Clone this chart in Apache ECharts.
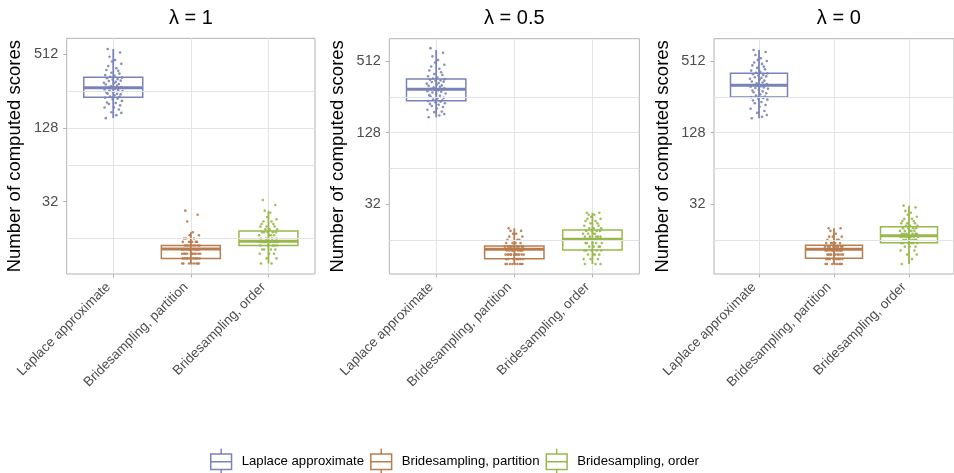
<!DOCTYPE html>
<html><head><meta charset="utf-8">
<script src="https://cdn.jsdelivr.net/npm/echarts@6/dist/echarts.min.js"></script>
<style>html,body{margin:0;padding:0;background:#fff}#c{width:954px;height:473px}</style>
</head><body><div id="c"></div>
<script>
const categories = ['Laplace approximate', 'Bridesampling, partition', 'Bridesampling, order'];
const panelTitles = ['λ = 1', 'λ = 0.5', 'λ = 0'];
const yTickLabels = [32, 128, 512];
const yMinorLines = [16, 64, 256];
const yAxisTitle = 'Number of computed scores';
const yExtents = [[8.2, 692], [8.24, 789], [8.24, 789]];

// box statistics per category: [lower whisker, Q1, median, Q3, upper whisker]
const boxLambda1 = [[154, 228, 273, 332, 566], [10, 11, 13.1, 14, 18], [10, 14, 15.2, 18.4, 27]];
const boxLambda05 = [[172, 237, 296, 361, 634], [10, 11.1, 13.3, 14.2, 20], [10, 13.1, 16.2, 19.3, 27]];
const boxLambda0 = [[169, 255, 320, 403, 634], [10, 11.2, 13.3, 14.4, 20], [10, 15.1, 17.3, 20.6, 31]];

// individual (jittered) observations
const lapLambda1 = [154,163,170,172,181,188,189,196,201,205,207,213,220,222,226,230,231,237,241,244,244,249,252,256,259,262,264,268,270,272,274,277,281,284,290,293,297,300,305,310,312,318,321,326,330,335,341,347,356,362,375,381,394,410,428,447,460,489,530,566];
const partLambda1 = [10,10,10,10,10,10,10,10,11,11,11,11,11,11,11,11,11,12,12,12,12,12,12,12,12,12,12,12,13,13,13,13,13,13,13,13,13,13,14,14,14,14,14,14,14,14,15,15,15,15,15,16,16,16,17,17,18,22,25,27];
const orderLambda1 = [10,10,11,11,12,12,12,13,13,13,13,14,14,14,14,14,15,15,15,15,15,15,15,15,15,15,15,15,15,15,15,16,16,16,16,17,17,17,17,18,18,18,18,18,19,19,19,20,20,20,21,21,22,22,23,24,26,27,30,33];
const lapLambda05 = [172,178,183,190,192,199,204,210,214,219,223,226,229,233,236,239,243,248,251,257,261,264,270,273,278,282,285,289,292,295,298,302,307,311,316,319,325,330,334,340,343,349,352,356,360,365,372,381,390,398,412,426,441,460,476,498,522,560,600,657];
const partLambda05 = [10,10,10,10,10,10,10,10,10,11,11,11,11,11,11,11,12,12,12,12,12,12,12,12,12,12,12,12,13,13,13,13,13,13,13,13,13,14,14,14,14,14,14,14,14,14,15,15,15,15,16,16,16,17,17,18,18,19,19,20];
const orderLambda05 = [10,10,10,11,11,11,12,12,12,12,13,13,13,13,13,14,14,14,14,15,15,15,15,15,16,16,16,16,16,16,16,17,17,17,17,17,18,18,18,18,19,19,19,19,20,20,20,21,21,22,22,23,23,24,24,25,26,26,27,27];
const lapLambda0 = [169,174,180,188,194,203,211,218,226,231,238,242,246,250,254,257,262,268,274,279,284,289,293,299,304,307,311,314,317,319,322,327,333,338,344,350,357,363,369,374,380,386,391,396,402,408,416,425,437,448,459,470,484,497,512,523,540,575,610,634];
const partLambda0 = [10,10,10,10,10,10,10,10,11,11,11,11,11,11,11,11,12,12,12,12,12,12,12,12,12,12,13,13,13,13,13,13,13,13,13,13,14,14,14,14,14,14,14,14,14,15,15,15,15,15,16,16,16,17,17,17,18,19,20,20];
const orderLambda0 = [10,11,12,12,13,13,14,14,14,15,15,15,15,15,15,16,16,16,16,16,16,17,17,17,17,17,17,17,17,18,18,18,18,18,18,19,19,19,19,19,20,20,20,20,21,21,21,22,22,22,23,23,24,24,25,26,27,28,30,31];

// horizontal jitter offsets (category units)
const jitter = [-0.12,0.05,0.13,-0.03,0.09,-0.14,0.01,0.11,-0.07,0.04,-0.10,0.14,-0.01,0.07,-0.13,0.10,-0.05,0.02,0.12,-0.09,0.06,-0.11,0.00,0.15,-0.06,0.08,-0.14,0.03,-0.02,0.11,-0.08,0.13,-0.04,0.06,-0.12,0.09,0.01,-0.15,0.04,-0.07,0.12,-0.01,0.07,-0.10,0.14,-0.05,0.02,-0.13,0.10,-0.03,0.08,-0.11,0.05,-0.08,0.13,-0.02,0.03,-0.06,0.11,-0.09];

const colors = ['#7A83B8', '#B97C4F', '#98B84C'];
const FONT = 'Liberation Sans, Arial, sans-serif';
const GRIDC = '#e3e3e3';

const panels = [
  { title: panelTitles[0], ext: yExtents[0], box: boxLambda1, pts: [lapLambda1, partLambda1, orderLambda1], grid: { left: 66.7, top: 38.3, width: 248.3, height: 235.7 } },
  { title: panelTitles[1], ext: yExtents[1], box: boxLambda05, pts: [lapLambda05, partLambda05, orderLambda05], grid: { left: 389.3, top: 38.7, width: 250, height: 235.3 } },
  { title: panelTitles[2], ext: yExtents[2], box: boxLambda0, pts: [lapLambda0, partLambda0, orderLambda0], grid: { left: 714, top: 38.7, width: 249.6, height: 235.3 } }
];

function renderBox(params, api) {
  const x = api.value(0);
  const lo = api.coord([x, api.value(1)]);
  const q1 = api.coord([x, api.value(2)]);
  const md = api.coord([x, api.value(3)]);
  const q3 = api.coord([x, api.value(4)]);
  const hi = api.coord([x, api.value(5)]);
  const w = api.size([0.76, 0])[0];
  const color = api.visual('color');
  return { type: 'group', children: [
    { type: 'line', shape: { x1: lo[0], y1: lo[1], x2: hi[0], y2: hi[1] }, style: { stroke: color, lineWidth: 1.8, fill: null } },
    { type: 'rect', shape: { x: q3[0] - w / 2, y: q3[1], width: w, height: q1[1] - q3[1] }, style: { stroke: color, fill: 'none', lineWidth: 1.5 } },
    { type: 'line', shape: { x1: md[0] - w / 2, y1: md[1], x2: md[0] + w / 2, y2: md[1] }, style: { stroke: color, lineWidth: 3, fill: null } }
  ] };
}

const grid = [], xAxis = [], yAxis = [], series = [], graphic = [];
panels.forEach((p, pi) => {
  grid.push(Object.assign({ show: true, borderColor: '#b3b3b3', borderWidth: 1, backgroundColor: 'transparent' }, p.grid));
  xAxis.push({
    gridIndex: pi, type: 'value', min: 0.4, max: 3.6,
    axisLine: { show: false },
    axisTick: { show: true, customValues: [1, 2, 3], length: 3.5, lineStyle: { color: '#b3b3b3' } },
    axisLabel: { customValues: [1, 2, 3], rotate: 45, margin: 6, padding: [0, 7, 0, 0], color: '#4d4d4d', fontSize: 13.5, fontFamily: FONT,
      formatter: v => categories[Math.round(v) - 1] },
    splitLine: { show: true, lineStyle: { color: GRIDC, width: 1 } }
  });
  yAxis.push({
    gridIndex: pi, type: 'log', logBase: 2, min: p.ext[0], max: p.ext[1], splitNumber: 6,
    axisLine: { show: false },
    axisTick: { show: true, customValues: yTickLabels, length: 3.5, lineStyle: { color: '#b3b3b3' } },
    axisLabel: { customValues: yTickLabels, margin: 8.5, color: '#4d4d4d', fontSize: 14.5, fontFamily: FONT },
    splitLine: { show: true, showMinLine: false, showMaxLine: false, lineStyle: { color: GRIDC, width: 1 } },
    name: yAxisTitle, nameLocation: 'middle', nameGap: 42,
    nameTextStyle: { color: '#000', fontSize: 18.5, fontFamily: FONT }
  });
  // minor horizontal grid lines
  series.push({
    type: 'scatter', xAxisIndex: pi, yAxisIndex: pi, z: 1, silent: true, data: [],
    markLine: { silent: true, symbol: 'none', label: { show: false },
      lineStyle: { color: GRIDC, width: 1, type: 'solid' },
      data: yMinorLines.map(v => ({ yAxis: v })) }
  });
  categories.forEach((cat, ci) => {
    series.push({
      type: 'custom', name: cat, xAxisIndex: pi, yAxisIndex: pi, z: 3,
      itemStyle: { color: colors[ci] },
      renderItem: renderBox,
      encode: { x: 0, y: [1, 2, 3, 4, 5] },
      data: [[ci + 1].concat(p.box[ci])]
    });
    series.push({
      type: 'scatter', name: cat, xAxisIndex: pi, yAxisIndex: pi, z: 4,
      symbolSize: 2.6, itemStyle: { color: colors[ci], opacity: 0.9 },
      data: p.pts[ci].map((v, i) => [ci + 1 + jitter[i] * 0.8, v])
    });
  });
  graphic.push({
    type: 'text', x: p.grid.left + p.grid.width / 2, y: 8,
    style: { text: p.title, textAlign: 'center', textVerticalAlign: 'top', fill: '#000', fontSize: 20, fontFamily: FONT }
  });
});

const boxIcon = 'path://M10,0L10,4M2,4L18,4L18,16L2,16ZM2,10L18,10M10,16L10,20';

const chart = echarts.init(document.getElementById('c'), null, { renderer: 'canvas' });
chart.setOption({
  animation: false,
  backgroundColor: '#fff',
  grid, xAxis, yAxis, series, graphic,
  legend: {
    left: 205, top: 443, itemWidth: 25, itemHeight: 26, itemGap: 6,
    textStyle: { color: '#000', fontSize: 13.2, fontFamily: FONT, padding: [0, 0, 0, 3] },
    data: categories.map((n, i) => ({ name: n, icon: boxIcon, itemStyle: { color: '#fff', borderColor: colors[i], borderWidth: 1.5 } }))
  }
});
</script></body></html>
